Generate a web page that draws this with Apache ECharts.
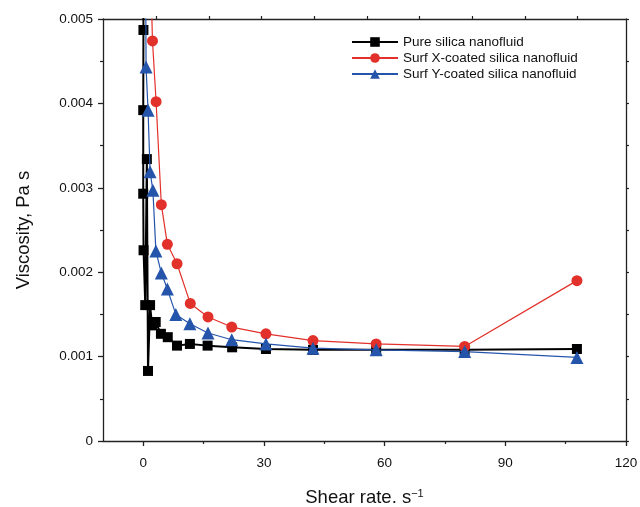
<!DOCTYPE html>
<html>
<head>
<meta charset="utf-8">
<script src="https://cdn.jsdelivr.net/npm/echarts@6/dist/echarts.min.js"></script>
<style>html,body{margin:0;padding:0;background:#fff}#c{width:640px;height:507px}</style>
</head>
<body>
<div id="c"></div>
<script>
// ---- data ----
var seriesNames = ['Pure silica nanofluid', 'Surf X-coated silica nanofluid', 'Surf Y-coated silica nanofluid'];

var shearPure = [0.03, 0.05, 0.0, 0.0, 0.08, 0.5, 0.9, 1.19, 1.7, 2.2, 3.1, 4.4, 6.1, 8.4, 11.6, 16.0, 22.1, 30.5, 42.2, 57.9, 79.9, 107.8];
var viscPure  = [0.0058, 0.00487, 0.00392, 0.00293, 0.00226, 0.00161, 0.00334, 0.00083, 0.00161, 0.00137, 0.00141, 0.00127, 0.00123, 0.00113, 0.00115, 0.00113, 0.00111, 0.00109, 0.00108, 0.00108, 0.00108, 0.00109];

var shearX = [1.66, 2.3, 3.2, 4.5, 6.0, 8.4, 11.7, 16.1, 22.0, 30.5, 42.2, 57.9, 79.9, 107.8];
var viscX  = [0.0059, 0.00474, 0.00402, 0.0028, 0.00233, 0.0021, 0.00163, 0.00147, 0.00135, 0.00127, 0.00119, 0.00115, 0.00112, 0.0019];

var shearY = [0.55, 0.7, 1.2, 1.7, 2.4, 3.15, 4.5, 6.0, 8.1, 11.6, 16.1, 22.0, 30.5, 42.2, 57.9, 79.9, 107.8];
var viscY  = [0.0065, 0.00443, 0.00392, 0.00319, 0.00297, 0.00225, 0.00199, 0.0018, 0.0015, 0.00139, 0.00128, 0.0012, 0.00115, 0.0011, 0.00108, 0.00106, 0.00099];

var xTickValues = [0, 30, 60, 90, 120];
var xMinorTickValues = [15, 45, 75, 105];
var topTickValues = [3.23, 16.33, 29.4, 42.5, 55.6, 68.7, 81.8, 94.9, 108.0];

function pairs(xs, ys) { return xs.map(function (x, i) { return [x, ys[i]]; }); }

var font = '"Liberation Sans", Arial, Helvetica, sans-serif';
var chart = echarts.init(document.getElementById('c'), null, { renderer: 'canvas' });

chart.setOption({
  animation: false,
  backgroundColor: '#fff',
  textStyle: { fontFamily: font },
  grid: { left: 103, right: 14, top: 19, bottom: 66, containLabel: false, outerBoundsMode: 'none' },
  legend: {
    orient: 'vertical',
    left: 346, top: 30,
    itemWidth: 46, itemHeight: 12, itemGap: 2,
    textStyle: { fontFamily: font, fontSize: 13.5, color: '#111', padding: [0, 0, 0, 0] },
    data: seriesNames
  },
  xAxis: [
    {
      type: 'value', min: -10, max: 120, position: 'bottom',
      name: 'Shear rate. s{sup|\u22121}', nameLocation: 'middle', nameGap: 47,
      nameTextStyle: { fontFamily: font, fontSize: 18.5, color: '#111',
        rich: { sup: { fontFamily: font, fontSize: 11, color: '#111', verticalAlign: 'top', padding: [0, 0, 9, 0] } } },
      axisLine: { show: true, onZero: false, lineStyle: { color: '#222', width: 1.3 } },
      axisTick: { show: true, inside: false, length: 5, customValues: xTickValues, lineStyle: { color: '#222', width: 1.3 } },
      axisLabel: { customValues: xTickValues, margin: 15, fontFamily: font, fontSize: 13.5, color: '#111' },
      splitLine: { show: false }
    },
    {
      type: 'value', min: -10, max: 120, position: 'bottom', gridIndex: 0,
      axisLine: { show: false },
      axisTick: { show: true, inside: false, length: 3, customValues: xMinorTickValues, lineStyle: { color: '#222', width: 1.2 } },
      axisLabel: { show: false },
      splitLine: { show: false }
    },
    {
      type: 'value', min: -10, max: 120, position: 'top',
      axisLine: { show: true, onZero: false, lineStyle: { color: '#222', width: 1.3 } },
      axisTick: { show: true, inside: false, length: 3, customValues: topTickValues, lineStyle: { color: '#222', width: 1.2 } },
      axisLabel: { show: false },
      splitLine: { show: false }
    }
  ],
  yAxis: [
    {
      type: 'value', min: 0, max: 0.005, interval: 0.001, position: 'left',
      name: 'Viscosity, Pa s', nameLocation: 'middle', nameGap: 70, nameRotate: 90,
      nameTextStyle: { fontFamily: font, fontSize: 18.5, color: '#111' },
      axisLine: { show: true, onZero: false, lineStyle: { color: '#222', width: 1.3 } },
      axisTick: { show: true, inside: false, length: 5, lineStyle: { color: '#222', width: 1.3 } },
      minorTick: { show: true, splitNumber: 2, length: 3, lineStyle: { color: '#222', width: 1.2 } },
      axisLabel: { margin: 10, fontFamily: font, fontSize: 13.5, color: '#111',
        formatter: function (v) { return v === 0 ? '0' : v.toFixed(3); } },
      splitLine: { show: false }, minorSplitLine: { show: false }
    },
    {
      type: 'value', min: 0, max: 0.005, interval: 0.0005, position: 'right',
      axisLine: { show: true, onZero: false, lineStyle: { color: '#222', width: 1.3 } },
      axisTick: { show: true, inside: false, length: 3, lineStyle: { color: '#222', width: 1.2 } },
      axisLabel: { show: false },
      splitLine: { show: false }
    }
  ],
  series: [
    {
      name: seriesNames[0], type: 'line', xAxisIndex: 0, yAxisIndex: 0,
      data: pairs(shearPure, viscPure),
      symbol: 'rect', symbolSize: 10,
      itemStyle: { color: '#000' },
      lineStyle: { color: '#000', width: 2 },
      z: 2
    },
    {
      name: seriesNames[1], type: 'line', xAxisIndex: 0, yAxisIndex: 0,
      data: pairs(shearX, viscX),
      symbol: 'circle', symbolSize: 11,
      itemStyle: { color: '#e2302a' },
      lineStyle: { color: '#e2302a', width: 1.2 },
      z: 3
    },
    {
      name: seriesNames[2], type: 'line', xAxisIndex: 0, yAxisIndex: 0,
      data: pairs(shearY, viscY),
      symbol: 'triangle', symbolSize: 13,
      itemStyle: { color: '#2554ab' },
      lineStyle: { color: '#2554ab', width: 1.2 },
      z: 4
    }
  ]
});
</script>
</body>
</html>
